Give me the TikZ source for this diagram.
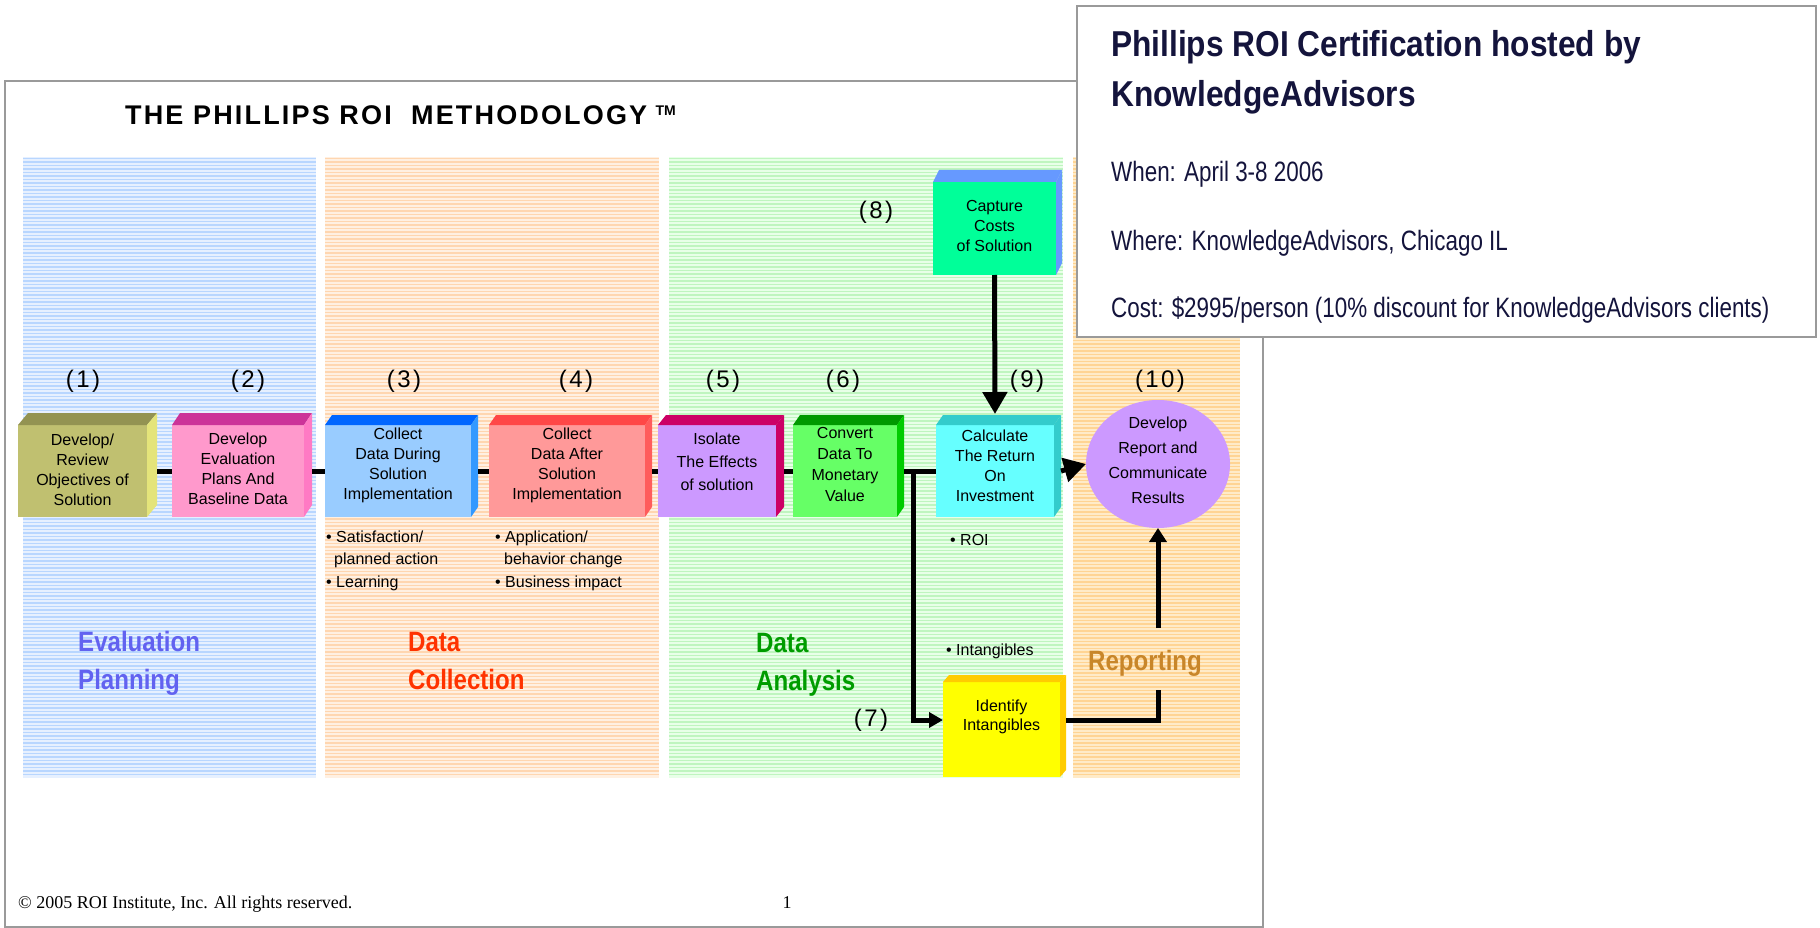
\documentclass[tikz,border=0pt]{standalone}
\usepackage{fontspec}
\setmainfont{Liberation Sans}
\newfontfamily\serf{Liberation Serif}
\newfontfamily\narf[FakeStretch=0.8]{Liberation Sans}
\newfontfamily\popbf[FakeStretch=0.88]{Liberation Sans}
\newfontfamily\phf[FakeStretch=0.86]{Liberation Sans}
\newfontfamily\numf[LetterSpace=10]{Liberation Sans}
\newfontfamily\ttlf[LetterSpace=8]{Liberation Sans}
\usetikzlibrary{arrows.meta,shapes.geometric,calc}
\newcommand\fs[2]{\fontsize{#1}{#2}\selectfont}
\definecolor{bandB}{HTML}{E6F0FF}\definecolor{strB}{HTML}{B8D6FF}
\definecolor{bandO}{HTML}{FFF0E2}\definecolor{strO}{HTML}{FFD6B0}
\definecolor{bandG}{HTML}{E8FFE8}\definecolor{strG}{HTML}{BFF5BF}
\definecolor{bandR}{HTML}{FFEBC8}\definecolor{strR}{HTML}{FFD493}
\definecolor{navy}{HTML}{14143C}
\definecolor{phEval}{HTML}{6262F0}
\definecolor{phColl}{HTML}{FF3300}
\definecolor{phAna}{HTML}{009C00}
\definecolor{phRep}{HTML}{C8862A}
\definecolor{frameg}{HTML}{9A9A9A}
% box colours: front, top, side
\definecolor{f1}{HTML}{C0C070}\definecolor{t1}{HTML}{939352}\definecolor{s1}{HTML}{E4E47A}
\definecolor{f2}{HTML}{FF99CC}\definecolor{t2}{HTML}{CC3399}\definecolor{s2}{HTML}{FF7AC4}
\definecolor{f3}{HTML}{99CCFF}\definecolor{t3}{HTML}{0066FF}\definecolor{s3}{HTML}{3399FF}
\definecolor{f4}{HTML}{FF9999}\definecolor{t4}{HTML}{FF4747}\definecolor{s4}{HTML}{FF5C5C}
\definecolor{f5}{HTML}{CC99FF}\definecolor{t5}{HTML}{CC0066}\definecolor{s5}{HTML}{CC0066}
\definecolor{f6}{HTML}{66FF66}\definecolor{t6}{HTML}{009900}\definecolor{s6}{HTML}{00CC00}
\definecolor{f9}{HTML}{66FFFF}\definecolor{t9}{HTML}{33CCCC}\definecolor{s9}{HTML}{33CCCC}
\definecolor{f8}{HTML}{00FF99}\definecolor{t8}{HTML}{6699FF}\definecolor{s8}{HTML}{6699FF}
\definecolor{f7}{HTML}{FFFF00}\definecolor{t7}{HTML}{FFCC00}\definecolor{s7}{HTML}{FFCC00}
\definecolor{fc}{HTML}{CC99FF}
% faces of a 3D box: name, top colour, side colour, dx, dy
\newcommand\boxfaces[5]{%
  \fill[#2] (#1.north west) -- ([shift={(#4pt,#5pt)}]#1.north west)
     -- ([shift={(#4pt,#5pt)}]#1.north east) -- (#1.north east) -- cycle;
  \fill[#3] (#1.north east) -- ([shift={(#4pt,#5pt)}]#1.north east)
     -- ([shift={(#4pt,#5pt)}]#1.south east) -- (#1.south east) -- cycle;}
\tikzset{
  front/.style={rectangle, inner sep=0pt, outer sep=0pt, draw=none},
  btext/.style={align=center, font=\fs{16}{20}, inner sep=0pt},
  numl/.style={font=\numf\fs{24}{27}, inner sep=0pt},
  conn/.style={line width=5pt, draw=black},
  bigtip/.style={-{Triangle[length=22pt,width=24pt]}},
  midtip/.style={-{Triangle[length=14pt,width=17pt]}},
  smalltip/.style={-{Triangle[length=14pt,width=15pt]}},
  bull/.style={anchor=base west, font=\fs{16}{20}, inner sep=0pt},
  phase/.style={anchor=base west, font=\phf\bfseries\fs{28}{32}, inner sep=0pt},
  popb/.style={anchor=base west, font=\popbf\bfseries\fs{36}{40}, text=navy, inner sep=0pt},
  popr/.style={anchor=base west, font=\narf\fs{28}{32}, text=navy, inner sep=0pt},
}
\begin{document}
\begin{tikzpicture}[x=1pt,y=-1pt]
\useasboundingbox (0,0) rectangle (1820,928);
\fill[white] (0,0) rectangle (1820,928);
% slide frame
\draw[frameg, line width=2pt] (5,81) rectangle (1263,926.5);
% bands
\fill[bandB] (23,157) rectangle (316,778);
\draw[strB, line width=1.4pt] \foreach \yy in {158.5,162,...,777}{(23,\yy) -- (316,\yy)};
\fill[bandO] (325,157) rectangle (659,778);
\draw[strO, line width=1.4pt] \foreach \yy in {158.5,162,...,777}{(325,\yy) -- (659,\yy)};
\fill[bandG] (669,157) rectangle (1063,778);
\draw[strG, line width=1.4pt] \foreach \yy in {158.5,162,...,777}{(669,\yy) -- (1063,\yy)};
\fill[bandR] (1073,157) rectangle (1240,778);
\draw[strR, line width=1.4pt] \foreach \yy in {158.5,162,...,777}{(1073,\yy) -- (1240,\yy)};
% title
\node[anchor=base west, font=\ttlf\bfseries\fs{27}{30}, inner sep=0pt] (title) at (125,125) {THE PHILLIPS ROI\ \ METHODOLOGY};
\node[anchor=base west, font=\bfseries\fs{14}{16}, inner sep=0pt] (tm) at ([xshift=8pt,yshift=9pt]title.base east) {TM};
% phase labels
\node[phase, text=phEval] (ev1) at (78,651) {Evaluation};
\node[phase, text=phEval] (ev2) at (78,689) {Planning};
\node[phase, text=phColl] (dc1) at (408,651) {Data};
\node[phase, text=phColl] (dc2) at (408,689) {Collection};
\node[phase, text=phAna] (da1) at (756,652) {Data};
\node[phase, text=phAna] (da2) at (756,690) {Analysis};
\node[phase, text=phRep] (rep) at (1088,670) {Reporting};
% boxes (front faces)
\node[front, fill=f1, minimum width=129, minimum height=92] (b1) at (82.5,471) {};
\node[front, fill=f2, minimum width=132, minimum height=92] (b2) at (238,471) {};
\node[front, fill=f3, minimum width=146, minimum height=92] (b3) at (398,471) {};
\node[front, fill=f4, minimum width=156, minimum height=92] (b4) at (567,471) {};
\node[front, fill=f5, minimum width=118, minimum height=92] (b5) at (717,471) {};
\node[front, fill=f6, minimum width=104, minimum height=92] (b6) at (845,471) {};
\node[front, fill=f9, minimum width=118, minimum height=92] (b9) at (995,471) {};
\node[front, fill=f8, minimum width=123, minimum height=93] (b8) at (994.5,228.5) {};
\node[front, fill=f7, minimum width=117, minimum height=95] (b7) at (1001.5,729.5) {};
\boxfaces{b1}{t1}{s1}{10}{12}
\boxfaces{b2}{t2}{s2}{8}{12}
\boxfaces{b3}{t3}{s3}{7}{10}
\boxfaces{b4}{t4}{s4}{7}{10}
\boxfaces{b5}{t5}{s5}{8}{10}
\boxfaces{b6}{t6}{s6}{7}{10}
\boxfaces{b9}{t9}{s9}{7}{10}
\boxfaces{b8}{t8}{s8}{6}{12}
\boxfaces{b7}{t7}{s7}{6}{7}
\node[front, ellipse, fill=fc, minimum width=144, minimum height=128] (c10) at (1158,464) {};
% box texts
\node[btext] (b1t) at ([yshift=1pt]b1.center) {Develop/\\Review\\Objectives of\\Solution};
\node[btext] (b2t) at ([yshift=2pt]b2.center) {Develop\\Evaluation\\Plans And\\Baseline Data};
\node[btext] (b3t) at ([yshift=6pt]b3.center) {Collect\\Data During\\Solution\\Implementation};
\node[btext] (b4t) at ([yshift=6pt]b4.center) {Collect\\Data After\\Solution\\Implementation};
\node[btext, font=\fs{16}{23}] (b5t) at ([yshift=9pt]b5.center) {Isolate\\The Effects\\of solution};
\node[btext, font=\fs{16}{21}] (b6t) at ([yshift=7pt]b6.center) {Convert\\Data To\\Monetary\\Value};
\node[btext] (b9t) at ([yshift=5pt]b9.center) {Calculate\\The Return\\On\\Investment};
\node[btext] (b8t) at ([yshift=3pt]b8.center) {Capture\\Costs\\of Solution};
\node[btext, font=\fs{16}{19}] (b7t) at ([yshift=13pt]b7.center) {Identify\\Intangibles};
\node[btext, font=\fs{16}{25}] (c10t) at ([yshift=4pt]c10.center) {Develop\\Report and\\Communicate\\Results};
% connectors
\draw[conn] ([xshift=10pt]b1.east) -- (b2.west);
\draw[conn] ([xshift=8pt]b2.east) -- (b3.west);
\draw[conn] ([xshift=7pt]b3.east) -- (b4.west);
\draw[conn] ([xshift=7pt]b4.east) -- (b5.west);
\draw[conn] ([xshift=8pt]b5.east) -- (b6.west);
\draw[conn] ([xshift=7pt]b6.east) -- (b9.west);
\coordinate (split) at (913,469);
\draw[conn, smalltip] (split) |- ([yshift=9.5pt]b7.west);
\draw[conn, bigtip] ([xshift=7pt]b9.east) -- (c10.west);
\draw[conn, bigtip] (b8.south) -- ([yshift=11pt]b9.north);
\coordinate (rlow) at (1158,690);
\coordinate (rhigh) at (1158,628);
\draw[conn] ([xshift=6pt,yshift=9.5pt]b7.east) -| (rlow);
\draw[conn, midtip] (rhigh) -- (c10.south);
% step numbers
\node[numl] (n1) at (83,381) {(1)};
\node[numl] (n2) at (248,381) {(2)};
\node[numl] (n3) at (404,381) {(3)};
\node[numl] (n4) at (576,381) {(4)};
\node[numl] (n5) at (723,381) {(5)};
\node[numl] (n6) at (843,381) {(6)};
\node[numl] (n9) at (1027,381) {(9)};
\node[numl] (n10) at (1160,381) {(10)};
\node[numl] (n8) at (876,212) {(8)};
\node[numl] (n7) at (871,720) {(7)};
% bullets
\node[bull] (s1) at (326,542) {• Satisfaction/};
\node[bull] (s2) at (334,564) {planned action};
\node[bull] (s3) at (326,587) {• Learning};
\node[bull] (a1) at (495,542) {• Application/};
\node[bull] (a2) at (504,564) {behavior change};
\node[bull] (a3) at (495,587) {• Business impact};
\node[bull] (roi) at (950,545) {• ROI};
\node[bull] (int) at (946,655) {• Intangibles};
% footer
\node[anchor=base west, font=\serf\fs{18}{20}, inner sep=0pt] (copy) at (18,908) {© 2005 ROI Institute, Inc. All rights reserved.};
\node[anchor=base, font=\serf\fs{18}{20}, inner sep=0pt] (pg) at (787,908) {1};
% popup
\draw[frameg, line width=1.5pt, fill=white] (1077,6) rectangle (1816,337);
\node[popb] (p1) at (1111,57) {Phillips ROI Certification hosted by};
\node[popb] (p2) at (1111,107) {KnowledgeAdvisors};
\node[popr] (p3) at (1111,182) {When: April 3-8 2006};
\node[popr] (p4) at (1111,250) {Where: KnowledgeAdvisors, Chicago IL};
\node[popr] (p5) at (1111,317) {Cost: \$2995/person (10\% discount for KnowledgeAdvisors clients)};
\end{tikzpicture}
\end{document}
